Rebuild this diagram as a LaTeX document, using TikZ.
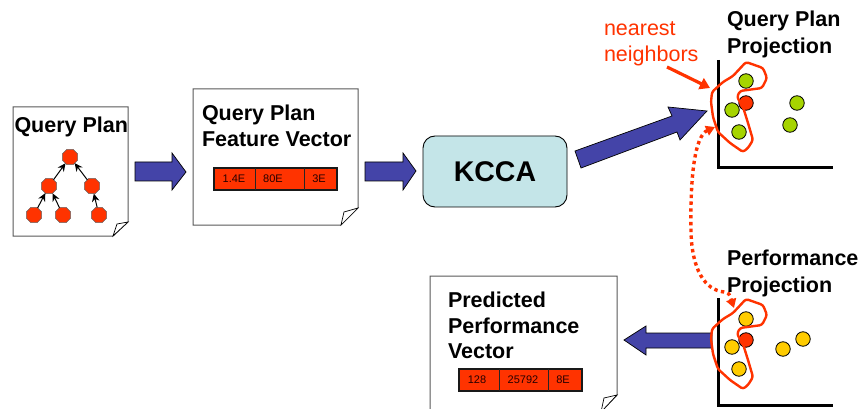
\documentclass[tikz,border=0pt]{standalone}
\usepackage{fontspec}
\setmainfont{Liberation Sans}
\usetikzlibrary{shapes.geometric,arrows.meta}
\definecolor{vred}{HTML}{FF3300}
\definecolor{vblue}{HTML}{4444A8}
\definecolor{vteal}{HTML}{C4E5E8}
\definecolor{vgreen}{HTML}{A6D400}
\definecolor{vyellow}{HTML}{FFCC00}
\tikzset{
  docpage/.style={draw=black!65,line width=1pt,fill=white,line join=miter},
  docflap/.style={draw=black,line width=.7pt,fill=white},
  bigarrow/.style={draw=black,line width=.7pt,fill=vblue,line join=miter},
  title/.style={font=\fontsize{21.5}{21.5}\selectfont\bfseries,anchor=base west,inner sep=0pt,outer sep=0pt},
  redtitle/.style={font=\fontsize{21.5}{21.5}\selectfont,text=vred,anchor=base west,inner sep=0pt,outer sep=0pt},
  cell/.style={font=\fontsize{11}{11}\selectfont,inner sep=0pt,text=black!85!red},
  vecbox/.style={draw=black!90,line width=2.2pt,fill=vred},
  vecdiv/.style={draw=black!85,line width=1pt},
  treenode/.style={regular polygon,regular polygon sides=8,minimum size=16.5pt,inner sep=0pt,outer sep=0pt,draw=black!60,line width=.6pt,fill=vred},
  treeedge/.style={-{Stealth[length=8pt,width=7.5pt]},line width=1pt,black},
  dot/.style={circle,minimum size=14.5pt,inner sep=0pt,draw=black,line width=.8pt},
  axis/.style={draw=black,line width=3pt,line join=miter},
  blob/.style={draw=vred,line width=2.4pt,line join=round,rounded corners=2.5pt},
  redarrow/.style={draw=vred,line width=3.2pt,-{Triangle[length=10pt,width=12pt]}},
  dotarrow/.style={draw=vred,line width=3.4pt,dash pattern=on 3.4pt off 3.4pt,{Triangle[length=9pt,width=10pt]}-{Triangle[length=9pt,width=10pt]}},
  kcca/.style={draw=black,line width=.9pt,fill=vteal,rounded corners=12pt,minimum width=144pt,minimum height=71pt,inner sep=0pt,font=\fontsize{28.5}{28.5}\selectfont\bfseries}
}
\begin{document}
\begin{tikzpicture}[x=1pt,y=-1pt]
\clip (0,0) rectangle (860,409);
\fill[white] (0,0) rectangle (860,409);

% Query Plan page
\draw[docpage] (13,107) -- (128,107) -- (128,222) -- (113,236) -- (13,236) -- cycle;
\draw[docflap] (113,236) -- (117,224) -- (128,222) -- cycle;
\node[title] (t1) at (14.5,133) {Query Plan};
\node[treenode] (n0) at (70,157) {};
\node[treenode] (n1) at (49,186) {};
\node[treenode] (n2) at (92,186) {};
\node[treenode] (n3) at (34,215) {};
\node[treenode] (n4) at (63,215) {};
\node[treenode] (n5) at (99,215) {};
\draw[treeedge] (n1) -- (n0);
\draw[treeedge] (n2) -- (n0);
\draw[treeedge] (n3) -- (n1);
\draw[treeedge] (n4) -- (n1);
\draw[treeedge] (n5) -- (n2);

% arrow 1
\draw[bigarrow] (135,162) -- (172,162) -- (172,153) -- (186,172) -- (172,190) -- (172,181) -- (135,181) -- cycle;

% Feature vector page
\draw[docpage] (193,89) -- (358,89) -- (358,208) -- (341,225) -- (193,225) -- cycle;
\draw[docflap] (341,225) -- (344,212) -- (358,208) -- cycle;
\node[title] (t2a) at (202,121) {Query Plan};
\node[title] (t2b) at (202,147) {Feature Vector};
\draw[vecbox] (214,168) rectangle (337,190);
\draw[vecdiv] (255,168) -- (255,190);
\draw[vecdiv] (304,168) -- (304,190);
\node[cell] (c1) at (234,179) {1.4E};
\node[cell] (c2) at (273,179) {80E};
\node[cell] (c3) at (319,179) {3E};

% arrow 2
\draw[bigarrow] (365,162) -- (403,162) -- (403,153) -- (416,171) -- (403,190) -- (403,181) -- (365,181) -- cycle;

% KCCA
\node[kcca] (kcca) at (495,171.5) {KCCA};

% arrow 3
\draw[bigarrow] (575,151) -- (672,116) -- (668,107) -- (707,111) -- (680,140) -- (677,132) -- (581,168) -- cycle;

% nearest neighbors
\node[redtitle] (nn1) at (604,36) {nearest};
\node[redtitle] (nn2) at (604,62) {neighbors};
\coordinate (nnfrom) at (667,67);
\coordinate (nnto) at (710,88);
\draw[redarrow] (nnfrom) -- (nnto);

% Upper plot
\node[title] (qp1) at (727,27) {Query Plan};
\node[title] (qp2) at (727,54) {Projection};
\draw[axis] (718,60) -- (718,168) -- (833,168);
\node[dot,fill=vgreen] (g1) at (746,81) {};
\node[dot,fill=vgreen] (g2) at (732,110) {};
\node[dot,fill=vgreen] (g3) at (739,132) {};
\node[dot,fill=vgreen] (g4) at (797,103) {};
\node[dot,fill=vgreen] (g5) at (790,125) {};
\node[dot,fill=vred] (r1) at (746,103) {};
\draw[blob] (746,62) -- (763,68) -- (767,78) -- (762,88) -- (740,91) -- (737,97) -- (743,107) -- (748,123) -- (753,140) -- (748,148) -- (743,152) -- (730,143) -- (718,132) -- (713,117) -- (711,102) -- (712,92) -- (723,82) -- (733,76) -- cycle;

% Dotted link
\coordinate (dtop) at (715,127);
\coordinate (dmid) at (691,232);
\coordinate (dknee) at (724,292);
\coordinate (dbot) at (734,308);
\draw[dotarrow] (dtop) .. controls (695,136) and (690,175) .. (dmid) .. controls (692,270) and (705,290) .. (dknee) .. controls (729,293) .. (dbot);

% Lower plot
\node[title] (pp1) at (727,265) {Performance};
\node[title] (pp2) at (727,292) {Projection};
\draw[bigarrow] (712,333) -- (646,333) -- (646,326) -- (624,340) -- (646,355) -- (646,348) -- (712,348) -- cycle;
\draw[axis] (718,298) -- (718,405) -- (833,405);
\node[dot,fill=vyellow] (y1) at (746,319) {};
\node[dot,fill=vyellow] (y2) at (732,347) {};
\node[dot,fill=vyellow] (y3) at (739,369) {};
\node[dot,fill=vyellow] (y4) at (783,349) {};
\node[dot,fill=vyellow] (y5) at (803,339) {};
\node[dot,fill=vred] (r2) at (746,340) {};
\draw[blob] (746,299) -- (763,305) -- (767,315) -- (762,325) -- (740,328) -- (737,334) -- (743,344) -- (748,360) -- (753,377) -- (748,385) -- (743,389) -- (730,380) -- (718,369) -- (713,354) -- (711,339) -- (712,329) -- (723,319) -- (733,313) -- cycle;

% Predicted page
\draw[docpage] (430,276) -- (617,276) -- (617,395) -- (601,412) -- (430,412) -- cycle;
\draw[docflap] (601,412) -- (604,398) -- (617,395) -- cycle;
\node[title] (t3a) at (448,307) {Predicted};
\node[title] (t3b) at (448,333) {Performance};
\node[title] (t3c) at (448,358) {Vector};
\draw[vecbox] (459,369) rectangle (582,391);
\draw[vecdiv] (499,369) -- (499,391);
\draw[vecdiv] (548,369) -- (548,391);
\node[cell] (d1) at (477,380) {128};
\node[cell] (d2) at (523,380) {25792};
\node[cell] (d3) at (563,380) {8E};
\end{tikzpicture}
\end{document}
